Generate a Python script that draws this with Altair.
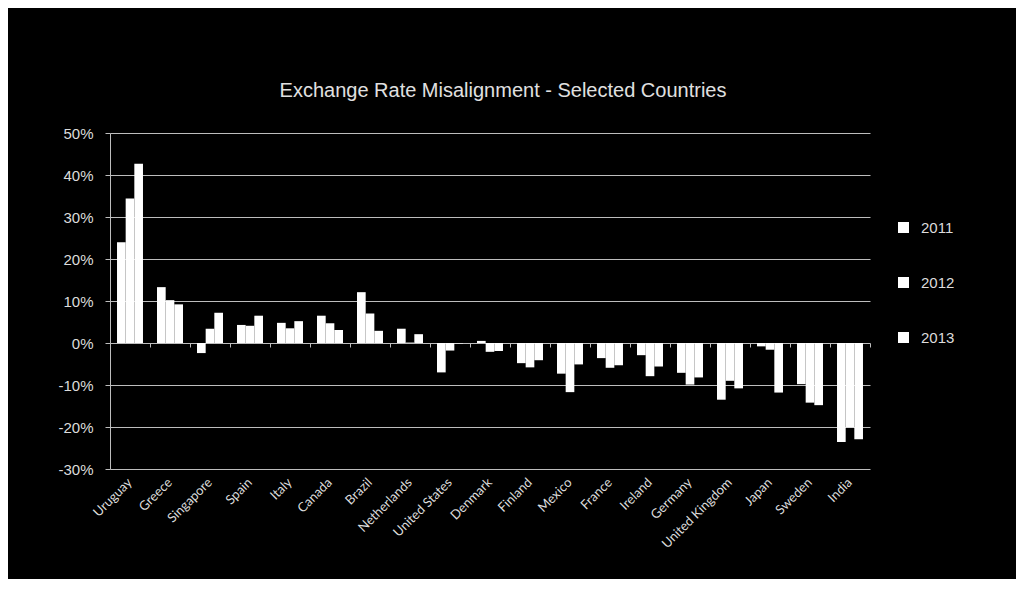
import altair as alt
import pandas as pd

countries = ["Uruguay", "Greece", "Singapore", "Spain", "Italy", "Canada", "Brazil",
             "Netherlands", "United States", "Denmark", "Finland", "Mexico", "France",
             "Ireland", "Germany", "United Kingdom", "Japan", "Sweden", "India"]
years = ["2011", "2012", "2013"]
v2011 = [24.0, 13.3, -2.4, 4.3, 4.8, 6.5, 12.1, 3.4, -7.0, 0.5, -4.8, -7.3, -3.6, -2.9, -7.1, -13.5, -0.8, -9.8, -23.6]
v2012 = [34.4, 10.2, 3.4, 4.1, 3.5, 4.7, 7.0, 0.1, -1.8, -2.1, -5.8, -11.7, -5.9, -7.9, -9.9, -9.0, -1.6, -14.2, -20.1]
v2013 = [42.7, 9.2, 7.2, 6.5, 5.2, 3.1, 2.9, 2.1, -0.1, -1.9, -4.1, -5.1, -5.3, -5.6, -8.2, -10.8, -11.8, -14.8, -22.9]

rows = []
for i, c in enumerate(countries):
    for y, vals in zip(years, [v2011, v2012, v2013]):
        rows.append({"country": c, "year": y, "value": vals[i]})
df = pd.DataFrame(rows)

W, H = 760, 336
TXT = "#dcdcdc"
GRID = "#bdbdbd"

bars = alt.Chart(df).mark_bar(color="white").encode(
    x=alt.X("country:N", sort=countries, title=None,
            scale=alt.Scale(paddingInner=0, paddingOuter=0),
            axis=alt.Axis(domain=False, ticks=False, labelAngle=-45, labelAlign="right",
                          labelBaseline="middle", labelPadding=11, labelFont="Lato",
                          labelFontSize=13, labelColor=TXT, grid=False)),
    xOffset=alt.XOffset("year:N", scale=alt.Scale(paddingInner=0, paddingOuter=0.81)),
    y=alt.Y("value:Q", title=None, scale=alt.Scale(domain=[-30, 50], nice=False, zero=False),
            axis=alt.Axis(values=[-30, -20, -10, 0, 10, 20, 30, 40, 50],
                          labelExpr="datum.value + '%'", grid=True, gridColor=GRID,
                          domain=True, domainColor=GRID, ticks=True, tickColor=GRID,
                          tickSize=5, labelPadding=12, labelFont="Liberation Sans",
                          labelFontSize=15, labelColor=TXT)),
    color=alt.Color("year:N", title=None,
                    scale=alt.Scale(domain=years, range=["white", "white", "white"]),
                    legend=alt.Legend(orient="none", legendX=786, legendY=87,
                                      symbolType="square", symbolSize=121,
                                      symbolStrokeWidth=0, symbolFillColor="white",
                                      labelFont="Liberation Sans", labelFontSize=15,
                                      labelColor=TXT, labelOffset=10, rowPadding=39)),
)

ticks = alt.Chart(pd.DataFrame({"country": countries})).mark_point(opacity=0).encode(
    x=alt.X("country:N", sort=countries, title=None,
            axis=alt.Axis(orient="bottom", offset=-126, labels=False, ticks=True,
                          tickBand="extent", tickSize=4, tickColor=GRID, domain=False,
                          grid=False)),
    y=alt.datum(0),
)

chart = alt.layer(bars, ticks).resolve_axis(x="independent").properties(
    width=W, height=H,
    autosize=alt.AutoSizeParams(type="none"),
    padding={"left": 102, "top": 125, "right": 146, "bottom": 110},
    background="black",
    title=alt.TitleParams("Exchange Rate Misalignment - Selected Countries",
                          font="Liberation Sans", fontSize=20, fontWeight="normal",
                          color="#e0e0e0", anchor="middle", dx=13, offset=25),
).configure_view(stroke=None)

chart.save("out.html", embed_options={"renderer": "svg", "actions": False})
